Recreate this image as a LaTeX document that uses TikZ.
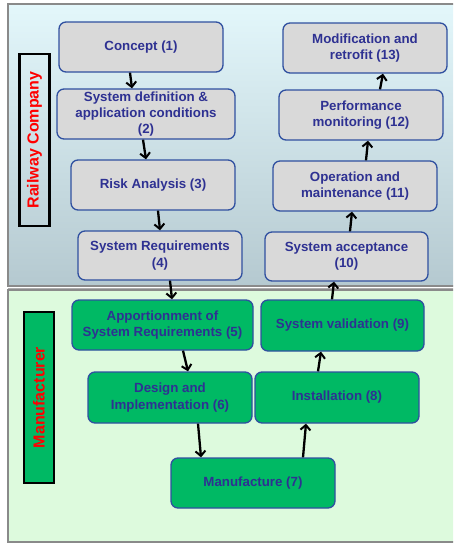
\documentclass[tikz,border=0pt]{standalone}
\usepackage{fontspec}
\setmainfont{Liberation Sans}
\usetikzlibrary{arrows.meta}
\definecolor{paneltop}{HTML}{E3F7FB}
\definecolor{panelbot}{HTML}{B5C9D0}
\definecolor{panelgreen}{HTML}{DDFADD}
\definecolor{panelline}{HTML}{8A8A8A}
\definecolor{boxgray}{HTML}{D9D9D9}
\definecolor{boxgreen}{HTML}{00B964}
\definecolor{boxline}{HTML}{3050A0}
\definecolor{boxtext}{HTML}{2E3192}
\tikzset{
  stage/.style={draw=boxline, line width=1.3pt, rounded corners=7pt,
    minimum width=164pt, minimum height=50pt, align=center,
    text=boxtext, font=\fontsize{13.3}{16.3}\selectfont\bfseries, inner sep=2pt},
  railstage/.style={stage, fill=boxgray},
  makerstage/.style={stage, fill=boxgreen},
  rolelabel/.style={draw=black, line width=2.5pt, minimum width=30pt,
    minimum height=171pt, inner sep=0pt},
  roletext/.style={text=red, font=\fontsize{16}{18}\selectfont\bfseries, rotate=90},
  flow/.style={draw=black, line width=2.3pt,
    -{Straight Barb[length=5pt,width=10pt,line width=2pt]}},
}
\begin{document}
\begin{tikzpicture}[x=1pt,y=-1pt]
\useasboundingbox (0,0) rectangle (453,544);
\begin{scope}
\clip (0,0) rectangle (453,544);
% upper panel: railway company
\shade[top color=paneltop, bottom color=panelbot] (8,4) rectangle (470,286);
\draw[panelline, line width=1.6pt] (470,4) -- (8,4) -- (8,286) -- (470,286);
\draw[panelline!70, line width=1pt] (8,288) -- (470,288);
% lower panel: manufacturer
\fill[panelgreen] (8,290) rectangle (470,542);
\draw[panelline, line width=1.2pt] (470,290) -- (8,290) -- (8,542) -- (470,542);
\end{scope}

% role labels
\node[rolelabel, minimum height=172pt] (rail) at (34.5,140) {};
\node[roletext] at (rail.center) {Railway Company};
\node[rolelabel, fill=boxgreen] (maker) at (39,397.5) {};
\node[roletext] at (maker.center) {Manufacturer};

% railway company stages
\node[railstage] (s1) at (141,47) {Concept (1)};
\node[railstage, minimum width=178pt] (s2) at (146,114) {System definition \&\\application conditions\\(2)};
\node[railstage] (s3) at (153,185) {Risk Analysis (3)};
\node[railstage, minimum height=49pt] (s4) at (160,255.5) {System Requirements\\(4)};
\node[railstage, minimum height=49pt, minimum width=163pt] (s10) at (346.5,256.5) {System acceptance\\(10)};
\node[railstage] (s11) at (355,186) {Operation and\\maintenance (11)};
\node[railstage] (s12) at (361,115) {Performance\\monitoring (12)};
\node[railstage] (s13) at (365,48) {Modification and\\retrofit (13)};

% manufacturer stages
\node[makerstage, minimum width=181pt] (s5) at (162.5,325) {Apportionment of\\System Requirements (5)};
\node[makerstage, minimum height=51pt] (s6) at (170,397.5) {Design and\\Implementation (6)};
\node[makerstage] (s7) at (253,483) {Manufacture (7)};
\node[makerstage, minimum height=51pt] (s8) at (337,397.5) {Installation (8)};
\node[makerstage, minimum width=163pt, minimum height=51pt] (s9) at (342.5,325.5) {System validation (9)};

% life-cycle flow
\draw[flow] ([xshift=-11pt]s1.south) -- ([xshift=-14pt]s2.north);
\draw[flow] ([xshift=-3pt]s2.south) -- ([xshift=-7pt]s3.north);
\draw[flow] ([xshift=5pt]s3.south) -- ([xshift=0pt]s4.north);
\draw[flow] ([xshift=10pt]s4.south) -- ([xshift=9.5pt]s5.north);
\draw[flow] ([xshift=20.5pt]s5.south) -- ([xshift=18pt]s6.north);
\draw[flow] ([xshift=28pt]s6.south) -- ([xshift=-52pt]s7.north);
\draw[flow] ([xshift=50pt]s7.north) -- ([xshift=-31pt]s8.south);
\draw[flow] ([xshift=-19pt]s8.north) -- ([xshift=-21.5pt]s9.south);
\draw[flow] ([xshift=-10.5pt]s9.north) -- ([xshift=-12.5pt]s10.south);
\draw[flow] ([xshift=3.5pt]s10.north) -- ([xshift=-3pt]s11.south);
\draw[flow] ([xshift=11pt]s11.north) -- ([xshift=7pt]s12.south);
\draw[flow] ([xshift=19pt]s12.north) -- ([xshift=18pt]s13.south);
\end{tikzpicture}
\end{document}
